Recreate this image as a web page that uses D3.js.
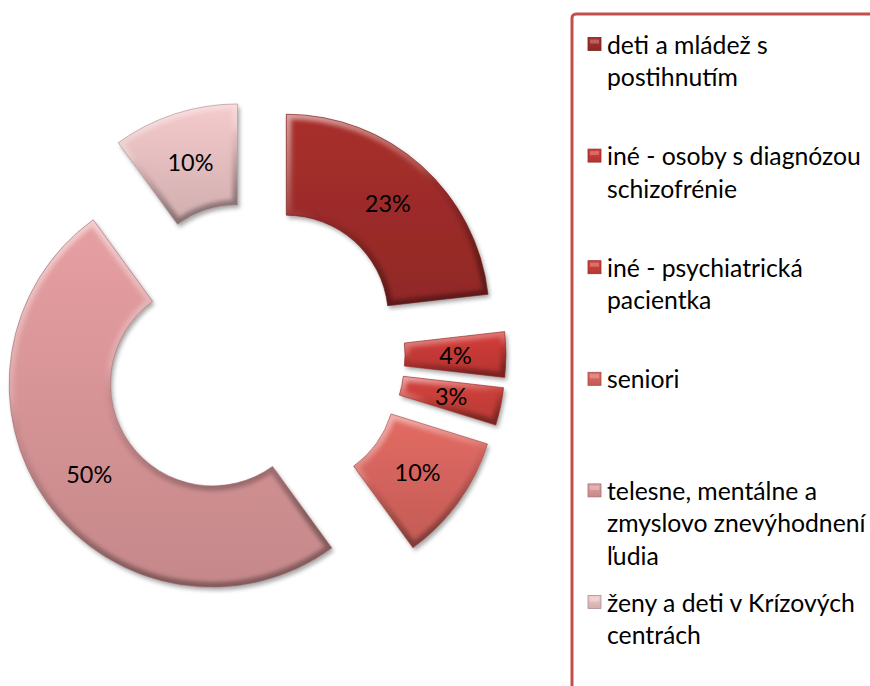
<!DOCTYPE html>
<html>
<head>
<meta charset="utf-8">
<script src="https://cdn.jsdelivr.net/npm/d3@7"></script>
<style>
  html, body { margin: 0; padding: 0; background: #fff; }
  svg { display: block; }
</style>
</head>
<body>
<svg id="chart" width="870" height="686"></svg>
<script>
// ---- data ----
const categories = [
  "deti a mládež s postihnutím",
  "iné - osoby s diagnózou schizofrénie",
  "iné - psychiatrická pacientka",
  "seniori",
  "telesne, mentálne a zmyslovo znevýhodnení ľudia",
  "ženy a deti v Krízových centrách"
];
const values = [23.2, 3.6, 3.0, 10.2, 50.0, 10.0];
const legendLines = [
  ["deti a mládež s", "postihnutím"],
  ["iné - osoby s diagnózou", "schizofrénie"],
  ["iné - psychiatrická", "pacientka"],
  ["seniori"],
  ["telesne, mentálne a", "zmyslovo znevýhodnení", "ľudia"],
  ["ženy a deti v Krízových", "centrách"]
];
const colors = ["#A02D2A", "#C83A36", "#CA3F3A", "#D8655F", "#DB979A", "#E8C0C2"];

// ---- layout ----
const svg = d3.select("#chart");
const cx = 253, cy = 354.5, R = 203, r = 102, explode = 50;
const fontFamily = "Lato, 'Open Sans', 'Noto Sans', sans-serif";

function fitSize(text, targetWidth, base) {
  const t = svg.append("text").attr("font-family", fontFamily).attr("font-size", base).text(text);
  const w = t.node().getComputedTextLength();
  t.remove();
  return base * targetWidth / w;
}
const labelSize = fitSize("23%", 46, 20);
const legendSize = fitSize("iné - osoby s diagnózou", 254, 20);

const defs = svg.append("defs");
const shadow = defs.append("filter").attr("id", "shadow")
  .attr("x", "-20%").attr("y", "-20%").attr("width", "140%").attr("height", "140%");
shadow.append("feDropShadow").attr("dx", 2).attr("dy", 3).attr("stdDeviation", 2.2)
  .attr("flood-color", "#000").attr("flood-opacity", 0.35);
const blur = defs.append("filter").attr("id", "blur");
blur.append("feGaussianBlur").attr("stdDeviation", 2.2);

const bevel = defs.append("linearGradient").attr("id", "bevel")
  .attr("x1", 0).attr("y1", 0).attr("x2", 0.3).attr("y2", 1);
bevel.append("stop").attr("offset", 0).attr("stop-color", "#fff").attr("stop-opacity", 0.55);
bevel.append("stop").attr("offset", 0.45).attr("stop-color", "#fff").attr("stop-opacity", 0.15);
bevel.append("stop").attr("offset", 0.55).attr("stop-color", "#000").attr("stop-opacity", 0.05);
bevel.append("stop").attr("offset", 1).attr("stop-color", "#000").attr("stop-opacity", 0.35);

colors.forEach((c, i) => {
  const g = defs.append("linearGradient").attr("id", "fill" + i)
    .attr("x1", 0).attr("y1", 0).attr("x2", 0).attr("y2", 1);
  g.append("stop").attr("offset", 0).attr("stop-color", d3.color(c).brighter(0.15));
  g.append("stop").attr("offset", 1).attr("stop-color", d3.color(c).darker(0.3));
});

const pie = d3.pie().sort(null).value(d => d);
const arcs = pie(values);
const arc = d3.arc().innerRadius(r).outerRadius(R);

const chart = svg.append("g").attr("transform", `translate(${cx},${cy})`);

const slices = chart.selectAll("g.slice").data(arcs).join("g")
  .attr("class", "slice")
  .attr("transform", d => {
    const m = (d.startAngle + d.endAngle) / 2;
    return `translate(${explode * Math.sin(m)},${-explode * Math.cos(m)})`;
  });

slices.each(function (d, i) {
  const g = d3.select(this);
  const p = arc(d);
  defs.append("clipPath").attr("id", "clip" + i).append("path").attr("d", p);
  g.append("path").attr("d", p)
    .attr("fill", `url(#fill${i})`)
    .attr("filter", "url(#shadow)");
  g.append("g").attr("clip-path", `url(#clip${i})`)
    .append("path").attr("d", p)
    .attr("fill", "none")
    .attr("stroke", "url(#bevel)")
    .attr("stroke-width", 10)
    .attr("filter", "url(#blur)");
  g.append("path").attr("d", p)
    .attr("fill", "none")
    .attr("stroke", d3.color(colors[i]).darker(0.9))
    .attr("stroke-opacity", 0.6)
    .attr("stroke-width", 1);
  const [lx, ly] = arc.centroid(d);
  g.append("text")
    .attr("x", lx).attr("y", ly)
    .attr("text-anchor", "middle")
    .attr("dominant-baseline", "central")
    .attr("font-family", fontFamily)
    .attr("font-size", labelSize)
    .attr("fill", "#000")
    .text(Math.round(d.data) + "%");
});

// ---- legend ----
svg.append("rect")
  .attr("x", 572).attr("y", 14).attr("width", 400).attr("height", 800).attr("rx", 4)
  .attr("fill", "none").attr("stroke", "#C0504D").attr("stroke-width", 3);

const yLeg = d3.scaleLinear().domain([0, categories.length - 1]).range([44, 602]);
const lineH = 32.5;
const leg = svg.append("g").selectAll("g").data(categories).join("g")
  .attr("transform", (d, i) => `translate(588,${yLeg(i)})`);
leg.append("rect")
  .attr("x", 0).attr("y", -6.5).attr("width", 13).attr("height", 13)
  .attr("fill", (d, i) => `url(#fill${i})`)
  .attr("stroke", (d, i) => d3.color(colors[i]).darker(0.8))
  .attr("stroke-width", 0.8);
leg.append("rect")
  .attr("x", 2).attr("y", -4.5).attr("width", 9).attr("height", 4)
  .attr("fill", "#fff").attr("opacity", 0.25);
leg.each(function (d, i) {
  const t = d3.select(this).append("text")
    .attr("font-family", fontFamily)
    .attr("font-size", legendSize)
    .attr("fill", "#000");
  legendLines[i].forEach((ln, k) => {
    t.append("tspan").attr("x", 19).attr("y", k * lineH)
      .attr("dominant-baseline", "central").text(ln);
  });
});
</script>
</body>
</html>
